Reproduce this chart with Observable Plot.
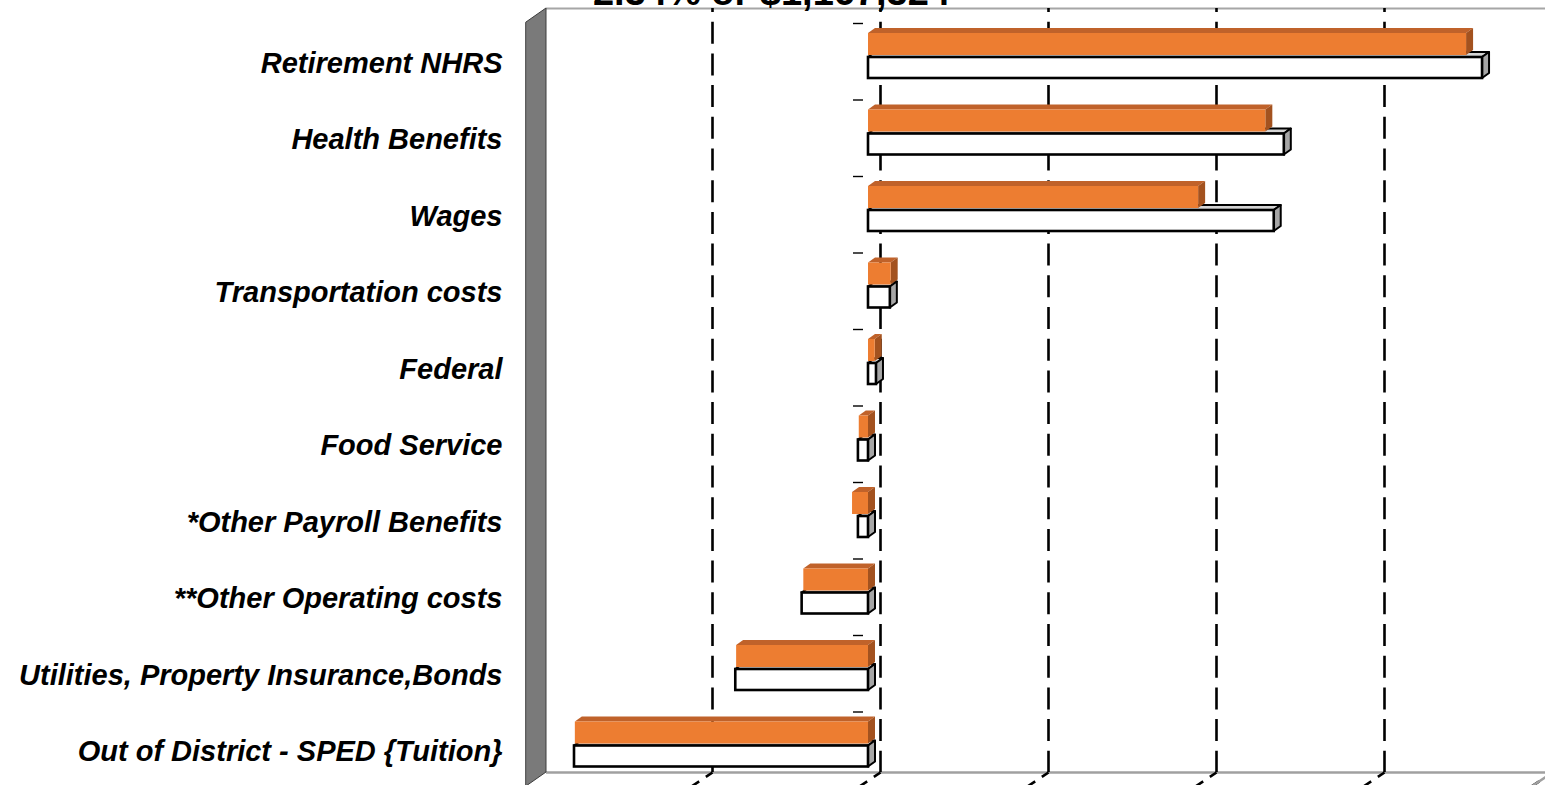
<!DOCTYPE html>
<html>
<head>
<meta charset="utf-8">
<script src="https://cdn.jsdelivr.net/npm/d3@7"></script>
<script src="https://cdn.jsdelivr.net/npm/@observablehq/plot@0.6"></script>
<style>
  html, body { margin: 0; padding: 0; background: #fff; overflow: hidden; }
  #chart svg { display: block; }
</style>
</head>
<body>
<div id="chart"></div>
<script>
// ---------- data ----------
const categories = [
  "Retirement NHRS",
  "Health Benefits",
  "Wages",
  "Transportation costs",
  "Federal",
  "Food Service",
  "*Other Payroll Benefits",
  "**Other Operating costs",
  "Utilities, Property Insurance,Bonds",
  "Out of District - SPED {Tuition}"
];
// orange series (upper bar of each pair)
const seriesOrange = [712000, 473000, 393000, 27000, 8000, -11000, -19000, -77000, -157000, -349000];
// white series (lower bar of each pair)
const seriesWhite  = [731000, 495000, 483000, 26000, 9500, -12000, -12000, -79000, -158000, -350000];
const xTicks = [-400000, -200000, 0, 200000, 400000, 600000, 800000];
const titleText = "2.34% or $1,167,324";

// ---------- layout (pixels) ----------
const W = 1545, H = 785;
const zeroPx = 868;              // front-plane zero
const k = 168 / 200000;          // px per dollar
const rowPx = 76.5;              // px per category
const firstRowPx = 56;           // centre of first pair
const backDx = 12;               // back plane offset (px)
const depthX = 7, depthY = 5;    // bar extrusion (px)
const wallTopPx = 8, floorPx = 772;

const ux = px => px / k;         // px -> dollars
const uy = px => px / rowPx;     // px -> category units
const yAt = px => (px - firstRowPx) / rowPx;
const xAt = px => (px - zeroPx) / k;

// ---------- build bar geometry ----------
const fronts = [], tops = [], sides = [];
function addBar(series, i, v, id) {
  const x1 = Math.min(0, v), x2 = Math.max(0, v);
  const yTop = series === "orange" ? i - uy(23) : i + uy(1);
  const yBot = series === "orange" ? i - uy(1) : i + uy(22);
  fronts.push({series, x1, x2, y1: yTop, y2: yBot});
  tops.push({series, id, y: yTop, x1, x2});
  tops.push({series, id, y: yTop - uy(depthY), x1: x1 + ux(depthX), x2: x2 + ux(depthX)});
  sides.push({series, id, x: x2, y1: yTop, y2: yBot});
  sides.push({series, id, x: x2 + ux(depthX), y1: yTop - uy(depthY), y2: yBot - uy(depthY)});
}
categories.forEach((c, i) => {
  addBar("white", i, seriesWhite[i], "w" + i);
  addBar("orange", i, seriesOrange[i], "o" + i);
});
const W_ = d => d.series === "white";
const O_ = d => d.series === "orange";

const backX = v => v + ux(backDx);
const wallX = backX(xTicks[0]) + ux(2);
const xRight = xAt(W + 20);

const wall = [
  {x: wallX - ux(20), y1: yAt(wallTopPx + 14), y2: yAt(floorPx + 14)},
  {x: wallX, y1: yAt(wallTopPx), y2: yAt(floorPx)}
];

const plot = Plot.plot({
  width: W,
  height: H,
  margin: 0,
  x: {domain: [xAt(0), xAt(W)], range: [0, W], axis: null},
  y: {domain: [yAt(0), yAt(H)], range: [0, H], axis: null},
  style: {background: "#fff", overflow: "visible"},
  marks: [
    // back-wall top edge & floor back edge
    Plot.ruleY([yAt(wallTopPx)], {x1: wallX, x2: xRight, stroke: "#a6a6a6", strokeWidth: 2}),
    Plot.ruleY([yAt(floorPx)], {x1: wallX, x2: xRight, stroke: "#a0a0a0", strokeWidth: 2.5}),
    // dashed vertical gridlines on the back wall
    Plot.ruleX(xTicks.slice(1), {
      x: d => backX(d), y1: yAt(wallTopPx), y2: yAt(floorPx),
      stroke: "#000", strokeWidth: 2.6, strokeDasharray: "22,9.7", strokeDashoffset: 18
    }),
    // dashed gridlines across the floor
    Plot.link(xTicks.slice(1), {
      x1: d => backX(d), y1: yAt(floorPx),
      x2: d => backX(d) - ux(28.5), y2: yAt(floorPx + 19),
      stroke: "#000", strokeWidth: 2.6, strokeDasharray: "10,8", strokeDashoffset: 2
    }),
    // floor right edge
    Plot.link([xTicks[xTicks.length - 1]], {
      x1: d => backX(d), y1: yAt(floorPx),
      x2: d => backX(d) - ux(28.5), y2: yAt(floorPx + 19),
      stroke: "#a0a0a0", strokeWidth: 2.5
    }),
    // left side wall
    Plot.areaY(wall, {x: "x", y1: "y1", y2: "y2", fill: "#7a7a7a", stroke: "#3c3c3c", strokeWidth: 1}),
    // category tick marks
    Plot.ruleY(categories.map((c, i) => i - uy(33)), {x1: -ux(15), x2: -ux(5), stroke: "#000", strokeWidth: 1.4}),
    // white bars
    Plot.areaX(tops.filter(W_), {y: "y", x1: "x1", x2: "x2", z: "id", fill: "#d4d4d4", stroke: "#000", strokeWidth: 2, strokeLinejoin: "round"}),
    Plot.areaY(sides.filter(W_), {x: "x", y1: "y1", y2: "y2", z: "id", fill: "#a6a6a6", stroke: "#000", strokeWidth: 2, strokeLinejoin: "round"}),
    Plot.rect(fronts.filter(W_), {x1: "x1", x2: "x2", y1: "y1", y2: "y2", fill: "#fff", stroke: "#000", strokeWidth: 2.6}),
    // orange bars
    Plot.areaX(tops.filter(O_), {y: "y", x1: "x1", x2: "x2", z: "id", fill: "#c0622a"}),
    Plot.areaY(sides.filter(O_), {x: "x", y1: "y1", y2: "y2", z: "id", fill: "#a3521f"}),
    Plot.rect(fronts.filter(O_), {x1: "x1", x2: "x2", y1: "y1", y2: "y2", fill: "#ed7d31"}),
    // category labels
    Plot.text(categories, {
      x: xAt(502), y: (d, i) => i + uy(16), text: d => d,
      textAnchor: "end", lineAnchor: "bottom",
      fontSize: 29, fontWeight: "bold", fontStyle: "italic",
      fontFamily: "'Liberation Sans', Arial, sans-serif", fill: "#000"
    }),
    // title (cropped at top, as in the reference)
    Plot.text([titleText], {
      x: xAt(771), y: yAt(4), text: d => d,
      textAnchor: "middle", lineAnchor: "bottom",
      fontSize: 38, fontWeight: "bold",
      fontFamily: "'Liberation Sans', Arial, sans-serif", fill: "#000"
    })
  ]
});
document.getElementById("chart").appendChild(plot);
</script>
</body>
</html>
